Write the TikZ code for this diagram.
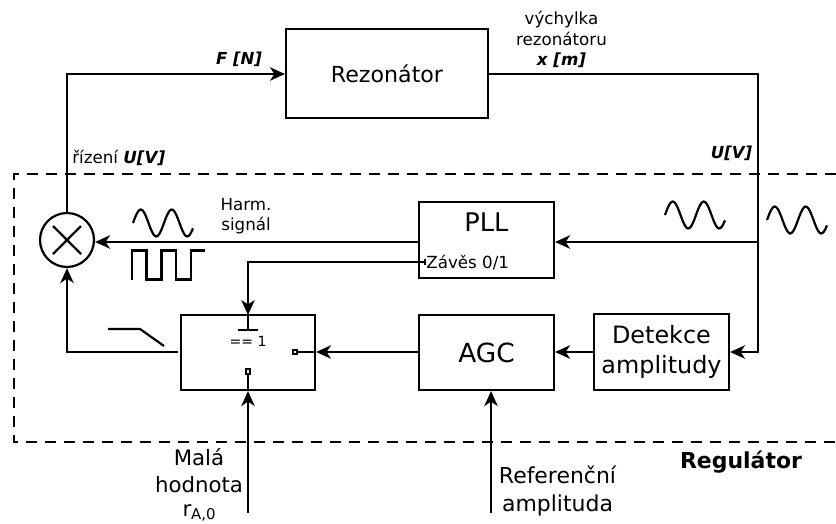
\documentclass[tikz,border=0pt]{standalone}
\usepackage{fontspec}
\setmainfont{DejaVu Sans}
\usetikzlibrary{arrows.meta}
\tikzset{
    line/.style={line width=1.25pt},
    box/.style={draw,line width=1.25pt,inner sep=0pt,minimum width=2.7cm,minimum height=1.52cm,align=center},
    port/.style={draw,line width=1pt,fill=white,inner sep=0pt,minimum size=0.09cm},
    lbl/.style={inner sep=0pt,align=center,font=\fontsize{9.5}{11.7}\selectfont},
    unit/.style={inner sep=0pt,font=\fontsize{9.4}{11}\selectfont\bfseries\itshape},
    sinewave/.pic={\draw[line] plot[smooth,samples=40,domain=0:60] (\x,{-13.5*sin(\x/31*360)});}
}
\begin{document}
\begin{tikzpicture}[x=0.02cm,y=-0.02cm,>={Stealth[length=3mm,width=2.7mm,inset=0.9mm]}]
\useasboundingbox (0,0) rectangle (836,524);
% blocks
\node[box,minimum width=4.04cm,minimum height=1.78cm,font=\fontsize{12.6}{15}\selectfont] (rez) at (387,73.5) {Rezonátor};
\node[box] (pll) at (486.5,240) {};
\node[inner sep=0pt,font=\fontsize{14.6}{17}\selectfont] (plltxt) at (486.5,222) {PLL};
\node[box,minimum height=1.5cm,font=\fontsize{15}{17}\selectfont] (agc) at (486.5,352.5) {AGC};
\node[box,font=\fontsize{13.6}{17}\selectfont] (det) at (661.5,352) {Detekce\\amplitudy};
\node[box,minimum width=2.68cm,minimum height=1.5cm] (sw) at (248,352.5) {};
\node[draw,circle,line width=1.25pt,minimum size=1.08cm,inner sep=0pt] (mul) at (67,240) {};
\draw[line] (53,226) -- (81,254) (53,254) -- (81,226);
% coordinates of the lines
\coordinate (corner) at (67,74);
\coordinate (rcorner) at (758,74);
\coordinate (split) at (758,242);
\coordinate (lowcorner) at (758,352);
\coordinate (lockend) at (425,262);
\coordinate (lockcorner) at (248,262);
\coordinate (swtop) at (248,315);
\coordinate (swbar) at (248,330);
\coordinate (swout) at (178,352);
\coordinate (outcorner) at (67,352);
\coordinate (smallin) at (248,513);
\coordinate (refin) at (491,513);
\node[port] (portr) at (295,352) {};
\node[port] (portb) at (248,371.5) {};
% regulator frame
\draw[line width=1.15pt,dash pattern=on 0.22cm off 0.16cm] (836,174) -- (14,174) -- (14,442) -- (836,442);
% connectors
\draw[line,->] (mul.north) -- (corner) -- (rez.west |- corner);
\draw[line] (rez.east |- rcorner) -- (rcorner) -- (split);
\draw[line,->] (split) -- (lowcorner) -- (det.east |- lowcorner);
\draw[line,->] (split) -- (pll.east |- split);
\draw[line,->] (pll.west |- split) -- (mul.east |- split);
\draw[line,->] (det.west |- swout) -- (agc.east |- swout);
\draw[line,->] (agc.west |- swout) -- (sw.east |- swout);
\draw[line] (sw.east |- swout) -- (portr);
\draw[line,->] (lockend) -- (lockcorner) -- (swtop);
\draw[line] (swtop) -- (swbar);
\draw[line] (238,330) -- (258,330);
\draw[line] (425,259) -- (425,265);
\draw[line,->] (swout) -- (outcorner) -- (mul.south);
\draw[line,->] (smallin) -- (sw.south);
\draw[line] (sw.south) -- (portb);
\draw[line,->] (refin) -- (agc.south -| refin);
% signal shapes
\pic at (133,223) {sinewave};
\pic at (665,215) {sinewave};
\pic at (767,220) {sinewave};
\draw[line] (132,279.5) -- (132,250.5) -- (146.5,250.5) -- (146.5,279.5) -- (161.5,279.5) -- (161.5,250.5) -- (176,250.5) -- (176,279.5) -- (191,279.5) -- (191,250.5) -- (205,250.5);
\draw[line] (108,329) -- (140,329) -- (164,346);
% labels
\node[unit] (flbl) at (239,59) {F [N]};
\node[lbl] (vych) at (561.5,39.5) {výchylka\\rezonátoru\\{\bfseries\itshape x [m]}};
\node[lbl,anchor=west] (riz) at (72,158) {řízení {\bfseries\itshape U[V]}};
\node[unit,anchor=east] (ulbl) at (752.5,153) {U[V]};
\node[lbl] (harm) at (246,216) {Harm.\\signál};
\node[lbl,anchor=west] (zav) at (426,262.5) {Závěs 0/1};
\node[lbl,font=\fontsize{8}{9}\selectfont] (eq) at (248,341) {== 1};
\node[inner sep=0pt,font=\fontsize{12.5}{14}\selectfont\bfseries] (regl) at (741,462) {Regulátor};
\node[inner sep=0pt,align=center,font=\fontsize{12.1}{15.4}\selectfont] (mala) at (199,470.5) {Malá\\hodnota};
\node[inner sep=0pt,font=\fontsize{12.1}{15.4}\selectfont] (rval) at (199.5,513) {r\textsubscript{A,0}};
\node[inner sep=0pt,align=center,font=\fontsize{12.5}{15.8}\selectfont] (refa) at (557.5,491) {Referenční\\amplituda};
\end{tikzpicture}
\end{document}
